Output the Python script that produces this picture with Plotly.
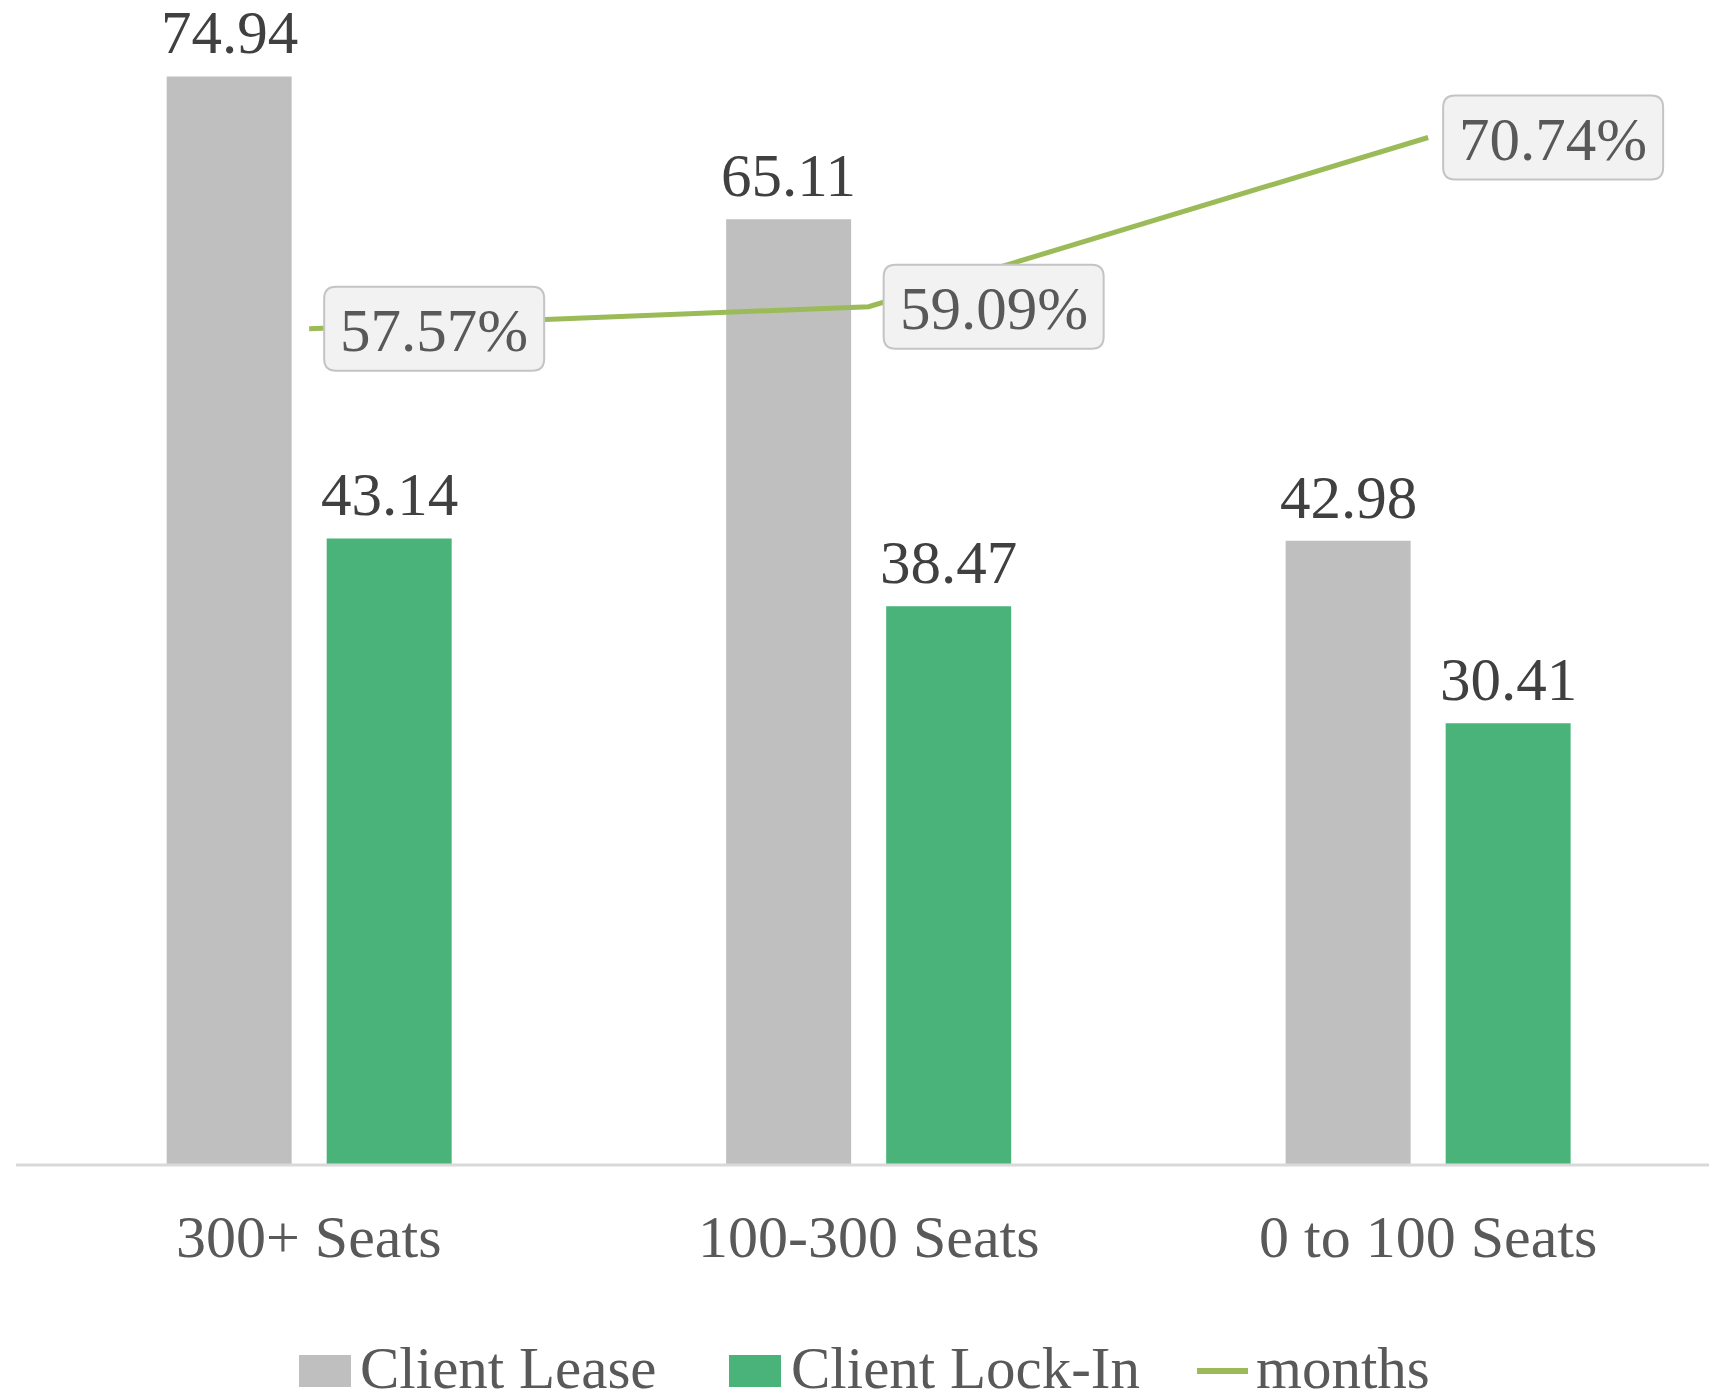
import plotly.graph_objects as go

categories = ["300+ Seats", "100-300 Seats", "0 to 100 Seats"]
series_names = ["Client Lease", "Client Lock-In", "months"]
client_lease = [74.94, 65.11, 42.98]
client_lock_in = [43.14, 38.47, 30.41]
months = [0.5757, 0.5909, 0.7074]

FONT = "Liberation Serif"
GRAY = "#bfbfbf"
GREEN = "#4ab37a"
LINE = "#9bbb59"

W, H = 1722, 1396
ML, MR, MT, MB = 16, 13, 3, 231
PW, PH = W - ML - MR, H - MT - MB
XRANGE = [-0.524, 2.502]
BARGAP, BARGROUPGAP = 0.428, 0.219

def px_x(px):
    return (px - ML) / PW

def px_y(py):
    return (H - MB - py) / PH

cat_px = PW / (XRANGE[1] - XRANGE[0])
slot_px = cat_px * (1 - BARGAP) / 2

fig = go.Figure()
fig.add_trace(go.Bar(
    x=categories, y=client_lease, name=series_names[0],
    marker=dict(color=GRAY, line=dict(width=0)),
))
fig.add_trace(go.Bar(
    x=categories, y=client_lock_in, name=series_names[1],
    marker=dict(color=GREEN, line=dict(width=0)),
))
fig.add_trace(go.Scatter(
    x=categories, y=months, name=series_names[2], yaxis="y2",
    mode="lines", line=dict(color=LINE, width=5), cliponaxis=False,
))

# value labels above bars
for vals, sign in ((client_lease, -1), (client_lock_in, 1)):
    for c, v in zip(categories, vals):
        fig.add_annotation(x=c, y=v, xref="x", yref="y", text=f"{v:.2f}",
                           showarrow=False, xanchor="center", yanchor="bottom",
                           xshift=sign * slot_px / 2, yshift=8,
                           font=dict(family=FONT, size=61, color="#404040"))

# category labels under the axis
for c in categories:
    fig.add_annotation(x=c, y=px_y(1237), xref="x", yref="paper", text=c,
                       showarrow=False, xanchor="center", yanchor="middle",
                       font=dict(family=FONT, size=60, color="#595959"))

# rounded label boxes anchored to the line points
r = 12
bx0, bx1, by0, by1 = 15, 235, -42, 42
box_path = (f"M{bx0+r},{by0} L{bx1-r},{by0} Q{bx1},{by0} {bx1},{by0+r} "
            f"L{bx1},{by1-r} Q{bx1},{by1} {bx1-r},{by1} L{bx0+r},{by1} "
            f"Q{bx0},{by1} {bx0},{by1-r} L{bx0},{by0+r} Q{bx0},{by0} {bx0+r},{by0} Z")
for i, v in enumerate(months):
    fig.add_shape(type="path", xref="x", yref="y2", xsizemode="pixel", ysizemode="pixel",
                  xanchor=i, yanchor=v, path=box_path,
                  fillcolor="#f2f2f2", line=dict(color="#c4c4c4", width=2), layer="above")
    fig.add_annotation(x=categories[i], y=v, xref="x", yref="y2",
                       text=f"{v*100:.2f}%", showarrow=False,
                       xanchor="center", yanchor="middle", xshift=(bx0 + bx1) / 2, yshift=-2,
                       font=dict(family=FONT, size=61, color="#595959"))

# axis baseline
fig.add_shape(type="line", xref="paper", yref="paper", x0=0, x1=1, y0=0, y1=0,
              line=dict(color="#d9d9d9", width=3), layer="above")

# manual legend
leg_y = 1371
fig.add_shape(type="rect", xref="paper", yref="paper",
              x0=px_x(299), x1=px_x(351), y0=px_y(1387), y1=px_y(1355),
              fillcolor=GRAY, line=dict(width=0))
fig.add_shape(type="rect", xref="paper", yref="paper",
              x0=px_x(729), x1=px_x(781), y0=px_y(1387), y1=px_y(1355),
              fillcolor=GREEN, line=dict(width=0))
fig.add_shape(type="line", xref="paper", yref="paper",
              x0=px_x(1197), x1=px_x(1248), y0=px_y(leg_y), y1=px_y(leg_y),
              line=dict(color=LINE, width=6))
for name, lx in zip(series_names, [358, 789, 1254]):
    fig.add_annotation(x=px_x(lx), y=px_y(1368), xref="paper", yref="paper",
                       text=name, showarrow=False, xanchor="left", yanchor="middle",
                       font=dict(family=FONT, size=59, color="#595959"))

fig.update_layout(
    width=W, height=H,
    margin=dict(l=ML, r=MR, t=MT, b=MB, pad=0),
    paper_bgcolor="white", plot_bgcolor="white",
    barmode="group", bargap=BARGAP, bargroupgap=BARGROUPGAP,
    showlegend=False,
    font=dict(family=FONT, color="#595959"),
    xaxis=dict(type="category", range=XRANGE, showgrid=False, showline=False,
               zeroline=False, ticks="", showticklabels=False),
    yaxis=dict(range=[0, 80], showgrid=False, showticklabels=False, zeroline=False,
               showline=False),
    yaxis2=dict(range=[0, 0.8], overlaying="y", side="right", showgrid=False,
                showticklabels=False, zeroline=False, showline=False),
)

fig.write_html("out.html")
